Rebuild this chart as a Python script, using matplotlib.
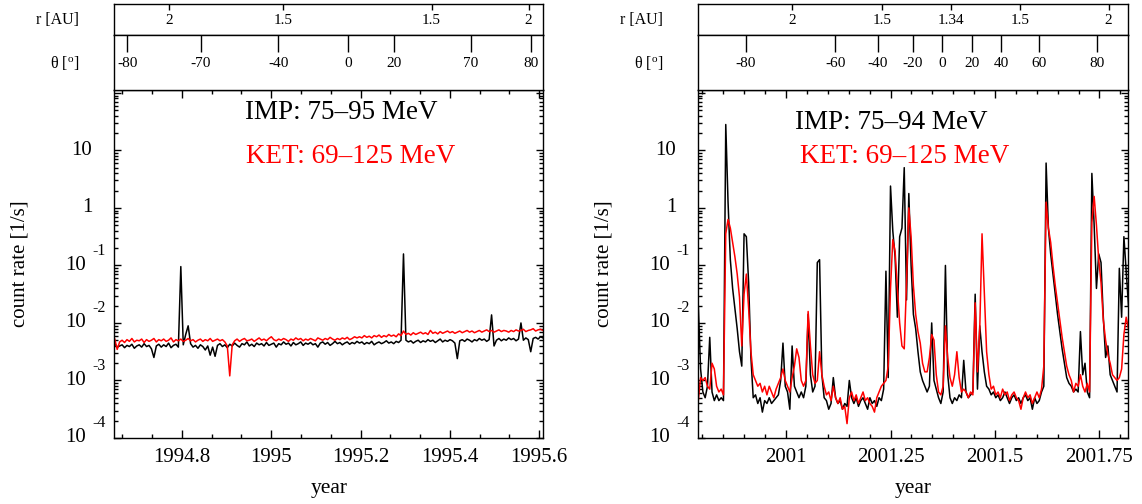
import numpy as np
import matplotlib
matplotlib.use("Agg")
import matplotlib.pyplot as plt
from matplotlib.ticker import LogLocator, MultipleLocator, NullFormatter

plt.rcParams['font.family'] = ['Liberation Serif', 'DejaVu Serif']
plt.rcParams['mathtext.fontset'] = 'custom'
plt.rcParams['mathtext.rm'] = 'Liberation Serif'
plt.rcParams['mathtext.it'] = 'Liberation Serif:italic'

# ---------------- data (log10 of count rate [1/s], 2-day samples) ----------------
sample_step = 2 / 365.25

left_start = 1994.650
imp_left_log10 = [
    -2.36, -2.42, -2.40, -2.38, -2.43, -2.39, -2.41, -2.37, -2.44, -2.40,
    -2.38, -2.42, -2.36, -2.41, -2.39, -2.45, -2.60, -2.40, -2.37, -2.42,
    -2.38, -2.41, -2.35, -2.43, -2.39, -2.37, -2.42, -1.02, -2.38, -2.20,
    -2.05, -2.36, -2.42, -2.39, -2.44, -2.38, -2.41, -2.47, -2.40, -2.56,
    -2.42, -2.58, -2.39, -2.36, -2.41, -2.38, -2.43, -2.37, -2.40, -2.35,
    -2.39, -2.42, -2.36, -2.38, -2.33, -2.40, -2.37, -2.41, -2.35, -2.38,
    -2.36, -2.40, -2.34, -2.39, -2.37, -2.35, -2.42, -2.36, -2.38, -2.33,
    -2.37, -2.35, -2.40, -2.34, -2.38, -2.36, -2.33, -2.39, -2.35, -2.37,
    -2.34, -2.38, -2.36, -2.42, -2.35, -2.33, -2.37, -2.34, -2.39, -2.36,
    -2.32, -2.36, -2.34, -2.38, -2.35, -2.33, -2.37, -2.34, -2.36, -2.32,
    -2.35, -2.33, -2.37, -2.34, -2.36, -2.32, -2.38, -2.35, -2.33, -2.36,
    -2.34, -2.31, -2.35, -2.33, -2.36, -2.32, -2.34, -2.30, -0.80, -2.30,
    -2.33, -2.31, -2.35, -2.32, -2.30, -2.34, -2.31, -2.33, -2.29, -2.32,
    -2.30, -2.34, -2.31, -2.28, -2.33, -2.30, -2.32, -2.29, -2.31, -2.35,
    -2.62, -2.31, -2.29, -2.32, -2.28, -2.30, -2.33, -2.29, -2.31, -2.27,
    -2.30, -2.28, -2.32, -2.29, -1.86, -2.40, -2.30, -2.27, -2.31, -2.28,
    -2.30, -2.26, -2.29, -2.27, -2.31, -2.28, -2.00, -2.30, -2.26, -2.29,
    -2.50, -2.27, -2.25, -2.28, -2.24, -2.26,
]
ket_left_log10 = [
    -2.28, -2.46, -2.33, -2.30, -2.34, -2.29, -2.32, -2.27, -2.33, -2.30,
    -2.31, -2.28, -2.34, -2.29, -2.32, -2.30, -2.27, -2.33, -2.29, -2.31,
    -2.28, -2.32, -2.30, -2.26, -2.33, -2.29, -2.31, -2.28, -2.32, -2.30,
    -2.27, -2.31, -2.29, -2.33, -2.30, -2.28, -2.32, -2.29, -2.31, -2.27,
    -2.32, -2.30, -2.28, -2.31, -2.29, -2.33, -2.40, -2.92, -2.38, -2.31,
    -2.28, -2.32, -2.29, -2.27, -2.31, -2.30, -2.28, -2.32, -2.29, -2.26,
    -2.30, -2.28, -2.31, -2.27, -2.24, -2.29, -2.31, -2.28, -2.30, -2.27,
    -2.29, -2.32, -2.28, -2.30, -2.26, -2.29, -2.27, -2.31, -2.28, -2.30,
    -2.27, -2.29, -2.31, -2.26, -2.28, -2.30, -2.27, -2.29, -2.25, -2.28,
    -2.30, -2.27, -2.29, -2.26, -2.28, -2.25, -2.29, -2.27, -2.24, -2.26,
    -2.24, -2.26, -2.22, -2.25, -2.23, -2.26, -2.22, -2.24, -2.21, -2.25,
    -2.22, -2.24, -2.20, -2.23, -2.21, -2.24, -2.19, -2.22, -2.14, -2.20,
    -2.18, -2.21, -2.17, -2.20, -2.18, -2.16, -2.19, -2.17, -2.20, -2.13,
    -2.18, -2.16, -2.19, -2.15, -2.18, -2.16, -2.14, -2.17, -2.15, -2.18,
    -2.16, -2.14, -2.17, -2.15, -2.13, -2.16, -2.14, -2.17, -2.15, -2.13,
    -2.16, -2.14, -2.12, -2.15, -2.13, -2.16, -2.14, -2.12, -2.15, -2.13,
    -2.14, -2.16, -2.13, -2.15, -2.12, -2.14, -2.13, -2.11, -2.15, -2.13,
    -2.12, -2.10, -2.14, -2.12, -2.11, -2.13,
]

right_start = 2000.790
imp_right_log10 = [
    -1.70, -2.80, -3.20, -3.30, -3.10, -2.25, -3.20, -3.35, -3.25, -3.35,
    -3.30, -3.35, 1.45, 0.10, -0.90, -1.40, -1.75, -2.10, -2.50, -2.75,
    -0.45, -0.50, -1.30, -2.60, -3.30, -3.25, -3.40, -3.30, -3.55, -3.35,
    -3.40, -3.30, -3.40, -3.35, -3.30, -3.25, -3.00, -2.35, -3.10, -3.20,
    -3.50, -2.40, -3.10, -3.20, -3.30, -3.20, -3.30, -3.10, -1.85, -2.90,
    -3.20, -3.10, -0.95, -0.90, -2.90, -3.30, -3.35, -3.50, -3.40, -2.95,
    -3.30, -3.40, -3.35, -3.50, -3.40, -3.45, -3.00, -3.30, -3.40, -3.30,
    -3.45, -3.35, -3.30, -3.40, -3.50, -3.30, -3.40, -3.35, -3.45, -3.30,
    -3.35, -3.15, -1.10, -2.95, 0.38, -0.40, -0.85, -1.90, -0.50, -0.35,
    0.70, -1.60, 0.25, -1.00, -1.85, -2.10, -2.50, -2.85, -3.00, -3.10,
    -3.20, -3.10, -2.00, -3.00, -3.15, -3.30, -3.40, -3.20, -1.00, -2.90,
    -3.30, -3.40, -3.30, -3.35, -3.25, -3.30, -2.65, -3.20, -3.30, -3.25,
    -3.20, -1.50, -3.15, -2.05, -2.50, -2.85, -3.10, -3.15, -3.25, -3.20,
    -3.30, -3.25, -3.35, -3.30, -3.20, -3.30, -3.40, -3.30, -3.25, -3.35,
    -3.30, -3.40, -3.30, -3.25, -3.35, -3.30, -3.50, -3.30, -3.40, -3.35,
    -3.20, -3.10, 0.78, -0.35, -0.80, -1.15, -1.50, -1.85, -2.15, -2.45,
    -2.70, -2.95, -3.05, -3.10, -3.20, -3.15, -3.20, -2.15, -2.90, -2.70,
    -3.20, -3.30, 0.60, -0.30, -1.40, -0.80, -0.95, -1.90, -2.60, -2.40,
    -2.90, -3.00, -3.10, -3.20, -1.05, -1.90, -0.50, -1.10, -1.70,
]
ket_right_log10 = [
    -3.35, -2.95, -3.00, -2.95, -3.10, -3.15, -2.70, -2.80, -3.10, -3.20,
    -3.15, -3.25, -0.45, -0.20, -0.35, -0.60, -0.85, -1.15, -1.55, -2.40,
    -1.50, -1.15, -1.75, -2.50, -2.90, -3.00, -3.10, -3.05, -3.20, -3.10,
    -3.25, -3.10, -3.20, -3.30, -3.15, -3.05, -2.95, -2.80, -3.00, -3.10,
    -3.20, -2.95, -2.75, -2.45, -2.60, -3.00, -3.10, -3.00, -1.80, -2.40,
    -2.90, -3.05, -3.00, -2.50, -2.90, -3.10, -3.25, -3.20, -3.35, -3.10,
    -3.30, -3.40, -3.30, -3.50, -3.45, -3.75, -3.30, -3.20, -3.35, -3.25,
    -3.40, -3.30, -3.20, -3.35, -3.30, -3.40, -3.45, -3.55, -3.30, -3.20,
    -3.10, -3.05, -3.00, -2.75, -1.40, -0.55, -0.75, -1.40, -2.00, -2.40,
    -2.45, -1.30, 0.00, -0.50, -1.35, -1.85, -2.15, -2.35, -2.70, -2.85,
    -2.85, -2.60, -2.20, -2.30, -2.90, -3.20, -3.25, -3.10, -2.05, -2.60,
    -2.95, -3.10, -2.90, -2.50, -2.95, -3.20, -3.15, -3.20, -3.30, -3.20,
    -3.25, -1.65, -2.85, -2.10, -0.45, -1.50, -2.50, -2.90, -3.15, -3.10,
    -3.25, -3.20, -3.30, -3.15, -3.25, -3.20, -3.35, -3.25, -3.20, -3.30,
    -3.35, -3.50, -3.30, -3.20, -3.30, -3.25, -3.40, -3.30, -3.20, -3.30,
    -3.15, -2.75, 0.10, -0.35, -0.60, -1.00, -1.35, -1.65, -1.95, -2.25,
    -2.50, -2.75, -2.90, -3.00, -3.20, -3.05, -3.10, -2.90, -3.10, -3.20,
    -3.05, -3.20, -0.25, 0.20, -0.30, -0.90, -1.30, -1.95, -2.30, -2.55,
    -2.70, -2.90, -2.95, -3.00, -2.95, -2.80, -2.20, -1.90, -2.10,
]

# axis ticks / labels
left_xlim = (1994.649, 1995.609)
left_xticks = [1994.8, 1995.0, 1995.2, 1995.4, 1995.6]
left_xticklabels = ['1994.8', '1995', '1995.2', '1995.4', '1995.6']
left_r_ticks = [1994.771, 1995.027, 1995.359, 1995.576]
left_r_labels = ['2', '1.5', '1.5', '2']
left_th_ticks = [1994.678, 1994.843, 1995.016, 1995.172, 1995.275, 1995.447, 1995.582]
left_th_labels = ['-80', '-70', '-40', '0', '20', '70', '80']
left_imp_label = 'IMP: 75–95 MeV'
left_ket_label = 'KET: 69–125 MeV'

right_xlim = (2000.790, 2001.819)
right_xticks = [2001.0, 2001.25, 2001.5, 2001.75]
right_xticklabels = ['2001', '2001.25', '2001.5', '2001.75']
right_r_ticks = [2001.015, 2001.229, 2001.395, 2001.561, 2001.772]
right_r_labels = ['2', '1.5', '1.34', '1.5', '2']
right_th_ticks = [2000.904, 2001.118, 2001.219, 2001.303, 2001.374,
                  2001.446, 2001.515, 2001.606, 2001.743]
right_th_labels = ['-80', '-60', '-40', '-20', '0', '20', '40', '60', '80']
right_imp_label = 'IMP: 75–94 MeV'
right_ket_label = 'KET: 69–125 MeV'

ytick_values = [1e1, 1e0, 1e-1, 1e-2, 1e-3, 1e-4]
ytick_base = ['10', '1', '10', '10', '10', '10']
ytick_exp = ['', '', '-1', '-2', '-3', '-4']
ylim = (1e-4, 10 ** 2.05)

# ---------------- figure ----------------
W, H = 1142, 504
fig = plt.figure(figsize=(W / 100, H / 100), dpi=100)


def rect(x0, x1, y0, y1):
    return [x0 / W, 1 - y1 / H, (x1 - x0) / W, (y1 - y0) / H]


def panel(px0, px1, start, imp, ket, xlim, xticks, xticklabels, minor_step,
          r_ticks, r_labels, th_ticks, th_labels, imp_lab, ket_lab, imp_xy, ket_xy):
    ax = fig.add_axes(rect(px0, px1, 90, 438))
    t_imp = start + sample_step * np.arange(len(imp))
    t_ket = start + sample_step * np.arange(len(ket))
    ax.plot(t_imp, 10 ** np.asarray(imp), color='black', lw=1.1)
    ax.plot(t_ket, 10 ** np.asarray(ket), color='#ff0000', lw=1.1)
    ax.set_yscale('log')
    ax.set_ylim(*ylim)
    ax.set_xlim(*xlim)
    ax.set_xticks(xticks, xticklabels)
    ax.xaxis.set_minor_locator(MultipleLocator(minor_step))
    ax.yaxis.set_major_locator(LogLocator(base=10, numticks=20))
    ax.yaxis.set_minor_locator(LogLocator(base=10, subs=np.arange(2, 10), numticks=20))
    ax.yaxis.set_major_formatter(NullFormatter())
    ax.yaxis.set_minor_formatter(NullFormatter())
    ax.tick_params(axis='both', which='both', direction='in', top=True, right=True, width=1)
    ax.tick_params(axis='x', which='major', length=6, pad=7, labelsize=15)
    ax.tick_params(axis='x', which='minor', length=3)
    ax.tick_params(axis='y', which='major', length=5)
    ax.tick_params(axis='y', which='minor', length=2.6)
    for s in ax.spines.values():
        s.set_linewidth(1.0)
    tr = ax.get_yaxis_transform()
    for v, base, ex in zip(ytick_values, ytick_base, ytick_exp):
        if ex:
            ax.annotate(base, xy=(0, v), xycoords=tr, xytext=(-20.5, 0),
                        textcoords='offset points', ha='right', va='center', fontsize=15)
            ax.annotate(ex, xy=(0, v), xycoords=tr, xytext=(-15.5, 10.5),
                        textcoords='offset points', ha='left', va='center', fontsize=11.5)
        else:
            ax.annotate(base, xy=(0, v), xycoords=tr, xytext=(-16, 0),
                        textcoords='offset points', ha='right', va='center', fontsize=15)
    ax.text(-0.219, 0.5, 'count rate [1/s]', rotation=90, ha='center', va='center',
            fontsize=15, transform=ax.transAxes)
    ax.text(0.5, -0.145, 'year', ha='center', va='center', fontsize=15.5,
            transform=ax.transAxes)
    ax.text(imp_xy[0], imp_xy[1], imp_lab, color='black', fontsize=19.5,
            ha='left', va='center', transform=ax.transAxes)
    ax.text(ket_xy[0], ket_xy[1], ket_lab, color='#ff0000', fontsize=19.5,
            ha='left', va='center', transform=ax.transAxes)

    # r [AU] row
    ar = fig.add_axes(rect(px0, px1, 4, 35))
    ar.set_xlim(*xlim)
    ar.set_yticks([])
    ar.set_xticks(r_ticks)
    ar.tick_params(axis='x', which='both', bottom=False, top=True, direction='in',
                   length=4.5, width=1, labelbottom=False, labeltop=False)
    for x, lab in zip(r_ticks, r_labels):
        ar.text(x, 0.47, lab, transform=ar.get_xaxis_transform(), ha='center',
                va='center', fontsize=11)
    ar.text(-0.082, 0.47, 'r [AU]', transform=ar.transAxes, ha='right', va='center',
            fontsize=11.5)
    # theta row
    at = fig.add_axes(rect(px0, px1, 35, 90))
    at.set_xlim(*xlim)
    at.set_yticks([])
    at.set_xticks(th_ticks)
    at.tick_params(axis='x', which='both', bottom=False, top=True, direction='in',
                   length=12.5, width=1, labelbottom=False, labeltop=False)
    for x, lab in zip(th_ticks, th_labels):
        at.text(x, 0.49, lab, transform=at.get_xaxis_transform(), ha='center',
                va='center', fontsize=11)
    at.text(-0.082, 0.49, r'θ [$^{\mathrm{o}}$]', transform=at.transAxes, ha='right',
            va='center', fontsize=11.5)
    for a in (ar, at):
        for s in a.spines.values():
            s.set_linewidth(1.0)
    return ax


panel(114.3, 543.3, left_start, imp_left_log10, ket_left_log10, left_xlim,
      left_xticks, left_xticklabels, 0.2 / 3, left_r_ticks, left_r_labels,
      left_th_ticks, left_th_labels, left_imp_label, left_ket_label,
      (0.305, 0.934), (0.308, 0.81))
panel(698.3, 1128.3, right_start, imp_right_log10, ket_right_log10, right_xlim,
      right_xticks, right_xticklabels, 0.05, right_r_ticks, right_r_labels,
      right_th_ticks, right_th_labels, right_imp_label, right_ket_label,
      (0.225, 0.908), (0.236, 0.81))

fig.savefig('out.png', dpi=100)
